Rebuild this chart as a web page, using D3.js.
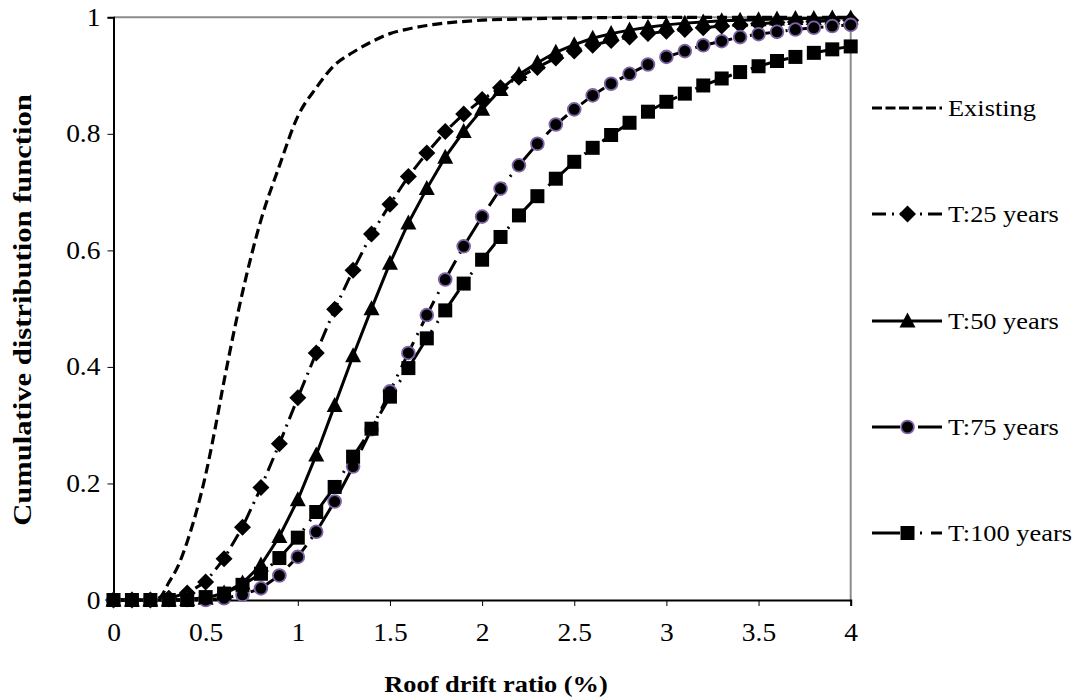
<!DOCTYPE html>
<html>
<head>
<meta charset="utf-8">
<script src="https://cdn.jsdelivr.net/npm/d3@7"></script>
<style>
  html, body { margin: 0; padding: 0; background: #fff; }
  svg { display: block; }
  text { font-family: "Liberation Serif", "Times New Roman", serif; fill: #000; }
</style>
</head>
<body>
<svg id="chart" width="1083" height="700"></svg>
<script>
// ---------------- DATA ----------------
const driftX = [0,0.1,0.2,0.3,0.4,0.5,0.6,0.7,0.8,0.9,1.0,1.1,1.2,1.3,1.4,1.5,1.6,1.7,1.8,1.9,2.0,
                2.1,2.2,2.3,2.4,2.5,2.6,2.7,2.8,2.9,3.0,3.1,3.2,3.3,3.4,3.5,3.6,3.7,3.8,3.9,4.0];

const t25 = [0,0,0,0.003,0.012,0.031,0.071,0.125,0.193,0.268,0.347,0.424,0.499,0.566,0.628,0.679,0.727,0.767,0.804,0.834,0.859,
             0.879,0.897,0.914,0.930,0.942,0.952,0.960,0.966,0.972,0.976,0.979,0.982,0.985,0.987,0.989,0.991,0.992,0.993,0.994,0.995];
const t50 = [0,0,0,0,0.001,0.003,0.012,0.029,0.060,0.109,0.172,0.249,0.334,0.419,0.500,0.578,0.647,0.706,0.760,0.804,0.842,
             0.876,0.902,0.922,0.940,0.953,0.964,0.972,0.978,0.983,0.987,0.990,0.992,0.994,0.995,0.996,0.997,0.998,0.998,0.999,0.999];
const t75 = [0,0,0,0,0,0,0.003,0.009,0.020,0.042,0.074,0.117,0.169,0.229,0.293,0.358,0.424,0.489,0.550,0.607,0.658,
             0.706,0.746,0.783,0.816,0.842,0.866,0.886,0.903,0.919,0.932,0.942,0.952,0.959,0.966,0.971,0.975,0.979,0.982,0.985,0.987];
const t100 = [0,0,0,0,0,0.005,0.011,0.026,0.045,0.072,0.107,0.151,0.194,0.246,0.294,0.349,0.398,0.449,0.497,0.543,0.584,
              0.623,0.660,0.693,0.723,0.752,0.776,0.798,0.819,0.838,0.855,0.869,0.883,0.895,0.906,0.916,0.925,0.932,0.939,0.945,0.950];

const existingX = [0,0.1,0.2,0.25,0.3,0.35,0.4,0.45,0.5,0.55,0.6,0.7,0.8,0.9,1.0,1.1,1.2,1.3,1.4,1.5,1.6,1.7,1.8,2.0,2.2,2.5,3.0,3.5,4.0];
const existingY = [0,0,0,0.004,0.03,0.058,0.1,0.152,0.215,0.292,0.376,0.528,0.652,0.745,0.83,0.879,0.918,0.94,0.958,0.972,0.98,0.986,0.99,0.995,0.997,0.999,1,1,1];

const seriesNames = ["Existing","T:25 years","T:50 years","T:75 years","T:100 years"];
const xTicks = [0,0.5,1,1.5,2,2.5,3,3.5,4];
const xTickLabels = ["0","0.5","1","1.5","2","2.5","3","3.5","4"];
const yTicks = [0,0.2,0.4,0.6,0.8,1];
const yTickLabels = ["0","0.2","0.4","0.6","0.8","1"];
const xTitle = "Roof drift ratio (%)";
const yTitle = "Cumulative distribution function";

// ---------------- LAYOUT ----------------
const svg = d3.select("#chart");
const L = 113.5, R = 850.7, T = 17.3, B = 600;
const FS = 24, TFS = 25, SX = 1.1;

const x = d3.scaleLinear().domain([0,4]).range([L,R]);
const y = d3.scaleLinear().domain([0,1]).range([B,T]);

// frame: gray top/right
svg.append("path").attr("d", `M${L},${T}H${R}V${B}`).attr("fill","none")
   .attr("stroke","#8c8c8c").attr("stroke-width",2);

// axes
const xAxis = d3.axisBottom(x).tickValues(xTicks).tickSize(6).tickFormat((d,i)=>xTickLabels[i]);
const yAxis = d3.axisLeft(y).tickValues(yTicks).tickSize(6).tickFormat((d,i)=>yTickLabels[i]);

const gx = svg.append("g").attr("transform",`translate(0,${B})`).call(xAxis);
const gy = svg.append("g").attr("transform",`translate(${L},0)`).call(yAxis);
[gx,gy].forEach(g=>{
  g.select(".domain").attr("stroke","#000").attr("stroke-width",2);
  g.selectAll(".tick line").attr("stroke","#000").attr("stroke-width",1);
  g.selectAll(".tick text").attr("font-size",TFS).attr("font-family","Liberation Serif").attr("fill","#000");
});
gx.selectAll(".tick text").attr("y",null).attr("dy",null)
  .attr("transform",`translate(0,41) scale(${SX},1)`);
gy.selectAll(".tick text").attr("x",null).attr("dy",null)
  .attr("transform",`translate(-13,8) scale(${SX},1)`);

// axis titles
svg.append("text").attr("transform",`translate(496,692) scale(${SX},1)`)
   .attr("text-anchor","middle").attr("font-size",FS).attr("font-weight","bold").text(xTitle);
svg.append("text").attr("transform",`translate(31,310) rotate(-90) scale(1.2,1)`)
   .attr("text-anchor","middle").attr("font-size",25.5).attr("font-weight","bold").text(yTitle);

// ---------------- SERIES ----------------
const purple = "#7f63a6";
const series = [
  {name:seriesNames[1], ys:t25,  dash:"14,6,2,6",          marker:"diamond"},
  {name:seriesNames[2], ys:t50,  dash:null,                marker:"triangle"},
  {name:seriesNames[3], ys:t75,  dash:"28,8,2,8",          marker:"circle"},
  {name:seriesNames[4], ys:t100, dash:"28,9,2,9,2,9",      marker:"square"}
];

const line = d3.line().x(d=>x(d[0])).y(d=>y(d[1]));
const smooth = d3.line().x(d=>x(d[0])).y(d=>y(d[1])).curve(d3.curveMonotoneX);

// existing
svg.append("path").datum(existingX.map((v,i)=>[v,existingY[i]]))
   .attr("d",smooth).attr("fill","none").attr("stroke","#000")
   .attr("stroke-width",3.2).attr("stroke-dasharray","10,5");

series.forEach(s=>{
  svg.append("path").datum(driftX.map((v,i)=>[v,s.ys[i]]))
     .attr("d",line).attr("fill","none").attr("stroke","#000")
     .attr("stroke-width",3).attr("stroke-dasharray",s.dash);
});

function drawMarker(g, kind, cx, cy){
  if(kind==="diamond"){
    g.append("path").attr("d",`M${cx},${cy-8.5}L${cx+8.5},${cy}L${cx},${cy+8.5}L${cx-8.5},${cy}Z`).attr("fill","#000");
  } else if(kind==="triangle"){
    g.append("path").attr("d",`M${cx},${cy-8.5}L${cx+8},${cy+6.5}L${cx-8},${cy+6.5}Z`).attr("fill","#000");
  } else if(kind==="circle"){
    g.append("circle").attr("cx",cx).attr("cy",cy).attr("r",6.4).attr("fill","#000")
     .attr("stroke",purple).attr("stroke-width",1.8);
  } else {
    g.append("rect").attr("x",cx-7).attr("y",cy-7).attr("width",14).attr("height",14).attr("fill","#000");
  }
}

series.forEach(s=>{
  const g = svg.append("g");
  driftX.forEach((v,i)=>drawMarker(g, s.marker, x(v), y(s.ys[i])));
});

// ---------------- LEGEND ----------------
const legY = [108,214,321,427,533];
const lx0 = 872, lx1 = 942, lmid = 907.5, ltx = 948;
const leg = svg.append("g");
[{dash:"10,3.5"}, ...series].forEach((s,i)=>{
  const yy = legY[i];
  leg.append("line").attr("x1",lx0).attr("x2",lx1).attr("y1",yy).attr("y2",yy)
     .attr("stroke","#000").attr("stroke-width",3).attr("stroke-dasharray",s.dash||null);
  if(s.marker) drawMarker(leg, s.marker, lmid, yy);
  leg.append("text").attr("transform",`translate(${ltx},${yy+8}) scale(${SX},1)`)
     .attr("font-size",FS).text(seriesNames[i]);
});
</script>
</body>
</html>
